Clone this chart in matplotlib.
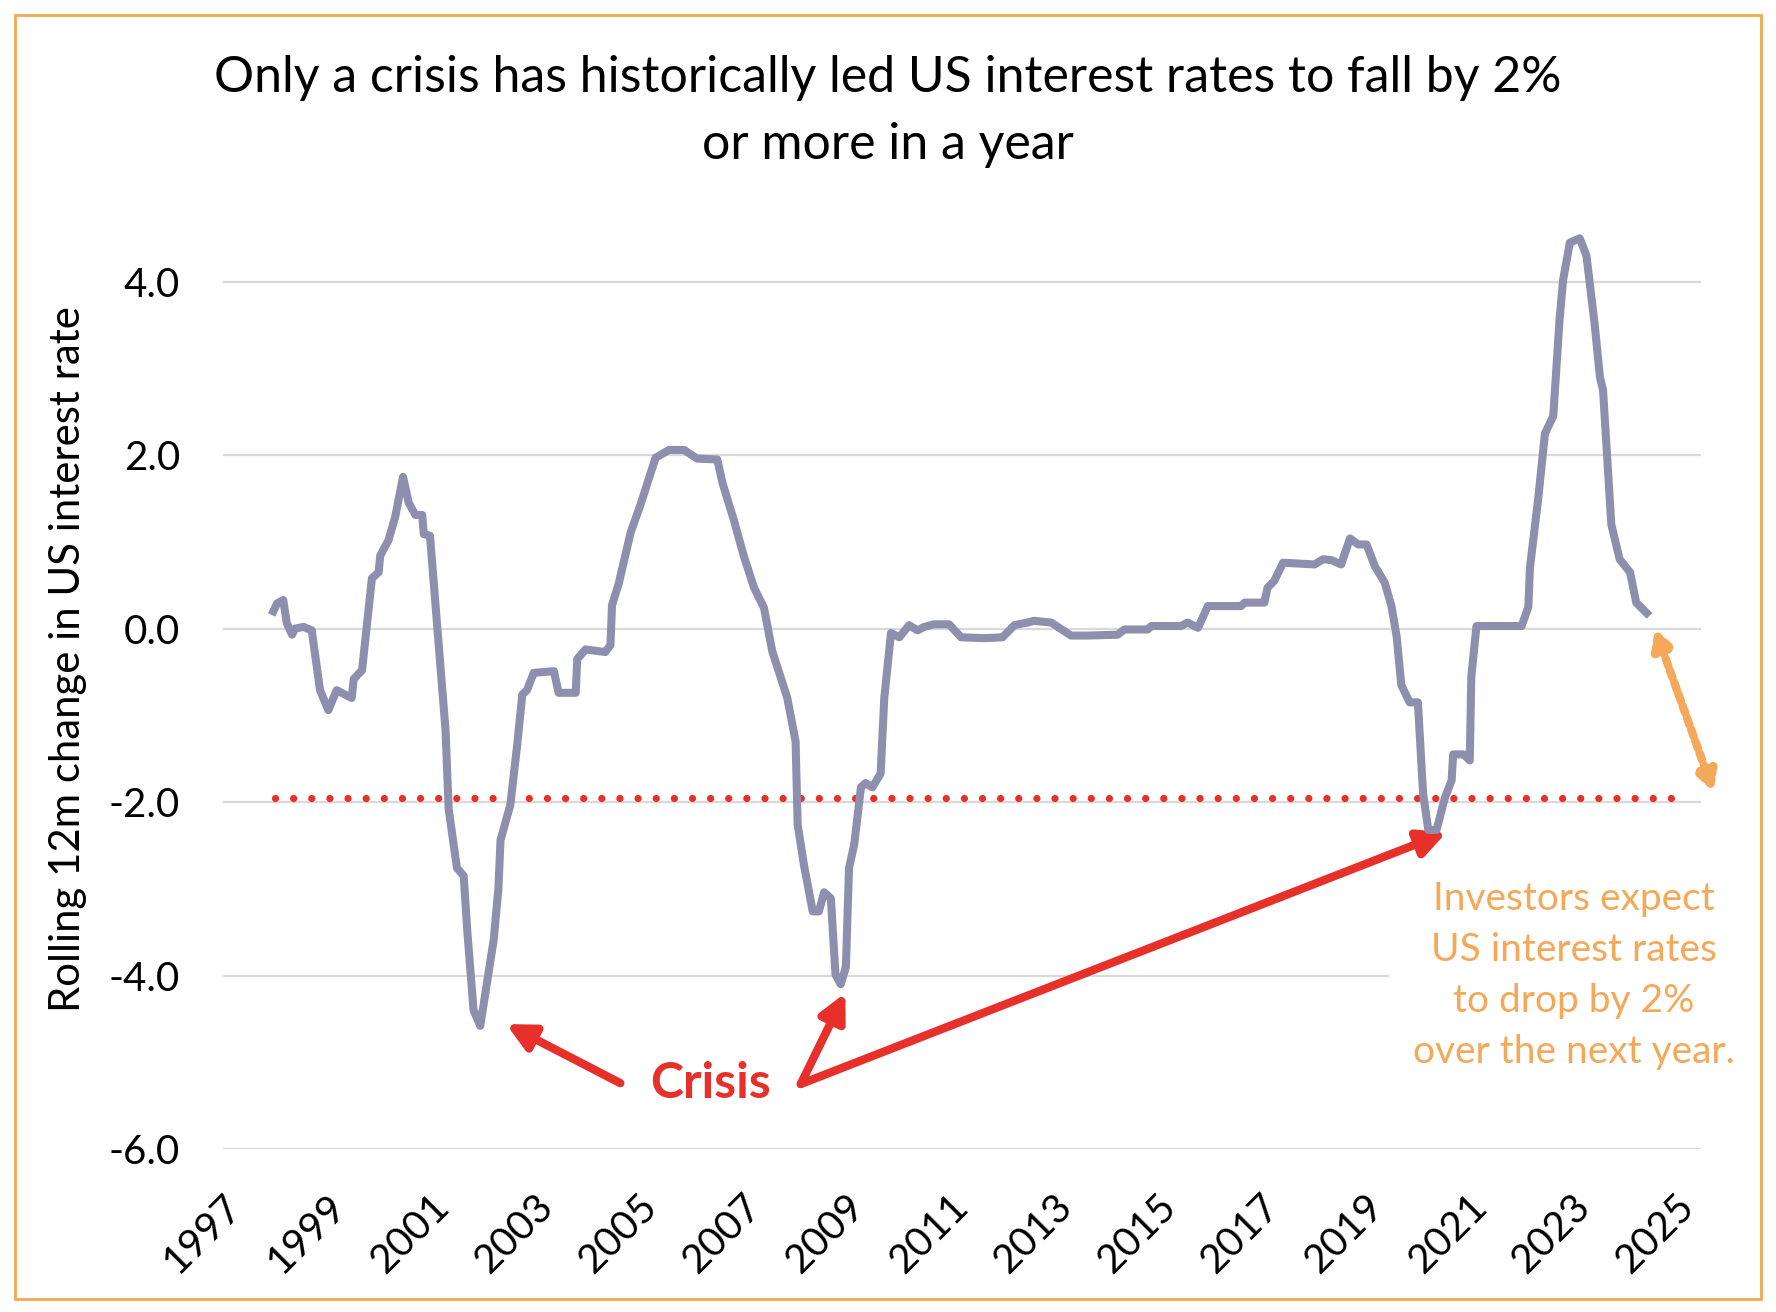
import matplotlib
matplotlib.use('Agg')
import matplotlib.pyplot as plt
from matplotlib.patches import Rectangle
from matplotlib.ticker import FormatStrFormatter

plt.rcParams['font.family'] = ['Lato', 'DejaVu Sans']
plt.rcParams['axes.unicode_minus'] = False

# rolling 12m change in US interest rate (decimal years)
years = [1997.97, 1998.04, 1998.16, 1998.23, 1998.33, 1998.39, 1998.55, 1998.71, 1998.87, 1999.03,
         1999.19, 1999.48, 1999.52, 1999.68, 1999.77, 1999.87, 2000.00, 2000.03, 2000.19, 2000.32,
         2000.47, 2000.58, 2000.71, 2000.84, 2000.87, 2000.99, 2001.13, 2001.29, 2001.35, 2001.51,
         2001.64, 2001.71, 2001.83, 2001.96, 2002.22, 2002.31, 2002.35, 2002.54, 2002.67, 2002.77,
         2002.86, 2002.99, 2003.38, 2003.47, 2003.80, 2003.83, 2003.99, 2004.37, 2004.47, 2004.50,
         2004.63, 2004.86, 2005.05, 2005.34, 2005.60, 2005.89, 2006.14, 2006.53, 2006.63, 2006.85,
         2007.04, 2007.24, 2007.43, 2007.59, 2007.88, 2008.04, 2008.08, 2008.20, 2008.37, 2008.49,
         2008.59, 2008.72, 2008.81, 2008.91, 2009.01, 2009.07, 2009.17, 2009.30, 2009.39, 2009.52,
         2009.68, 2009.75, 2009.88, 2010.04, 2010.23, 2010.39, 2010.52, 2010.71, 2011.00, 2011.23,
         2011.68, 2012.03, 2012.26, 2012.51, 2012.64, 2012.97, 2013.35, 2013.67, 2014.25, 2014.38,
         2014.83, 2014.90, 2015.47, 2015.60, 2015.80, 2015.99, 2016.63, 2016.70, 2017.08, 2017.14,
         2017.27, 2017.44, 2018.05, 2018.21, 2018.37, 2018.56, 2018.73, 2018.89, 2019.05, 2019.21,
         2019.40, 2019.53, 2019.63, 2019.72, 2019.88, 2020.04, 2020.14, 2020.24, 2020.40, 2020.56,
         2020.69, 2020.72, 2020.92, 2021.04, 2021.07, 2021.17, 2022.04, 2022.17, 2022.20, 2022.36,
         2022.49, 2022.65, 2022.77, 2022.84, 2022.97, 2023.16, 2023.29, 2023.45, 2023.55, 2023.61,
         2023.77, 2023.93, 2024.13, 2024.25, 2024.45]
change = [0.20, 0.29, 0.33, 0.06, -0.07, 0.00, 0.02, -0.02, -0.71, -0.94,
          -0.71, -0.80, -0.58, -0.48, 0.02, 0.58, 0.65, 0.84, 1.02, 1.29,
          1.75, 1.45, 1.31, 1.31, 1.09, 1.07, 0.02, -1.17, -2.08, -2.76,
          -2.85, -3.49, -4.40, -4.58, -3.58, -2.99, -2.44, -2.03, -1.35, -0.76,
          -0.71, -0.51, -0.49, -0.74, -0.74, -0.35, -0.24, -0.27, -0.19, 0.27,
          0.52, 1.11, 1.43, 1.97, 2.06, 2.06, 1.96, 1.95, 1.68, 1.25,
          0.84, 0.47, 0.24, -0.26, -0.80, -1.30, -2.26, -2.72, -3.26, -3.26,
          -3.04, -3.11, -3.99, -4.10, -3.90, -2.76, -2.49, -1.83, -1.78, -1.83,
          -1.67, -0.80, -0.05, -0.10, 0.04, -0.02, 0.02, 0.05, 0.05, -0.10,
          -0.11, -0.10, 0.04, 0.07, 0.09, 0.07, -0.08, -0.08, -0.07, -0.01,
          -0.01, 0.03, 0.03, 0.07, 0.01, 0.26, 0.26, 0.30, 0.30, 0.47,
          0.55, 0.76, 0.74, 0.80, 0.79, 0.74, 1.04, 0.97, 0.97, 0.72,
          0.53, 0.26, -0.09, -0.65, -0.85, -0.85, -1.90, -2.32, -2.32, -1.95,
          -1.75, -1.45, -1.45, -1.52, -0.55, 0.03, 0.03, 0.25, 0.70, 1.50,
          2.25, 2.45, 3.55, 4.02, 4.45, 4.50, 4.30, 3.50, 2.90, 2.75,
          1.20, 0.80, 0.65, 0.30, 0.18]

# -2% threshold line
threshold_x = [1998.0, 2025.2]
threshold = -1.95

year_ticks = list(range(1997, 2026, 2))
y_ticks = [-6, -4, -2, 0, 2, 4]

title = 'Only a crisis has historically led US interest rates to fall by 2%\nor more in a year'
ylab = 'Rolling 12m change in US interest rate'
note = 'Investors expect\nUS interest rates\nto drop by 2%\nover the next year.'

line_col = '#8E8EAE'
red = '#E8302A'
orange = '#F4A85A'

fig = plt.figure(figsize=(8.88, 6.56), dpi=200)
ax = fig.add_axes([0.1256, 0.1242, 0.8322, 0.714])

ax.plot(years, change, color=line_col, lw=2.9, zorder=4, solid_joinstyle='round')
ax.plot(threshold_x, [threshold, threshold], color=red, lw=2.6,
        linestyle=(0, (0.01, 2.5)), dash_capstyle='round', zorder=3)

ax.set_xlim(1997, 2025.5)
ax.set_ylim(-6, 4.8)
ax.set_xticks(year_ticks)
ax.set_xticklabels([str(y) for y in year_ticks], rotation=45, ha='right', rotation_mode='anchor')
ax.set_yticks(y_ticks)
ax.yaxis.set_major_formatter(FormatStrFormatter('%.1f'))
ax.tick_params(axis='both', length=0, labelsize=14.5)
ax.tick_params(axis='y', pad=15.5)
ax.tick_params(axis='x', pad=14)
ax.grid(axis='y', color='#D9D9D9', lw=0.8)
ax.set_axisbelow(True)
for s in ax.spines.values():
    s.set_visible(False)

ax.set_ylabel(ylab, fontsize=15.1)
ax.yaxis.set_label_coords(-0.092, 0.523)

fig.text(0.5, 0.915, title, ha='center', va='center', fontsize=18, linespacing=1.55)

# crisis arrows
arrow_kw = dict(arrowstyle='-|>,head_length=0.8,head_width=0.4', color=red, lw=3.0,
                shrinkA=0, shrinkB=0)
ax.annotate('', xy=(2002.46, -4.56), xytext=(2004.66, -5.24), arrowprops=arrow_kw)
ax.annotate('', xy=(2009.0, -4.2), xytext=(2008.14, -5.25), arrowprops=arrow_kw)
ax.annotate('', xy=(2020.59, -2.35), xytext=(2008.14, -5.25), arrowprops=arrow_kw)
ax.text(2006.4, -5.25, 'Crisis', color=red, fontsize=18, fontweight='bold',
        ha='center', va='center')

# expectation note
ax.text(2023.04, -4.0, note, color=orange, fontsize=14, ha='center', va='center',
        linespacing=1.52, zorder=2,
        bbox=dict(boxstyle='square,pad=0.6', facecolor='white', edgecolor='none'))
ax.annotate('', xy=(2024.61, 0.0), xytext=(2025.74, -1.88), annotation_clip=False,
            arrowprops=dict(arrowstyle='<|-|>,head_length=0.55,head_width=0.3', color=orange,
                            lw=3.0, linestyle=(0, (0.9, 0.6)), shrinkA=0, shrinkB=0))

fig.patches.append(Rectangle((15 / 1776, 13 / 1312), 1746 / 1776, 1284 / 1312,
                             transform=fig.transFigure, fill=False, edgecolor='#F3A84E', lw=1.0))

fig.savefig('out.png', dpi=200)
